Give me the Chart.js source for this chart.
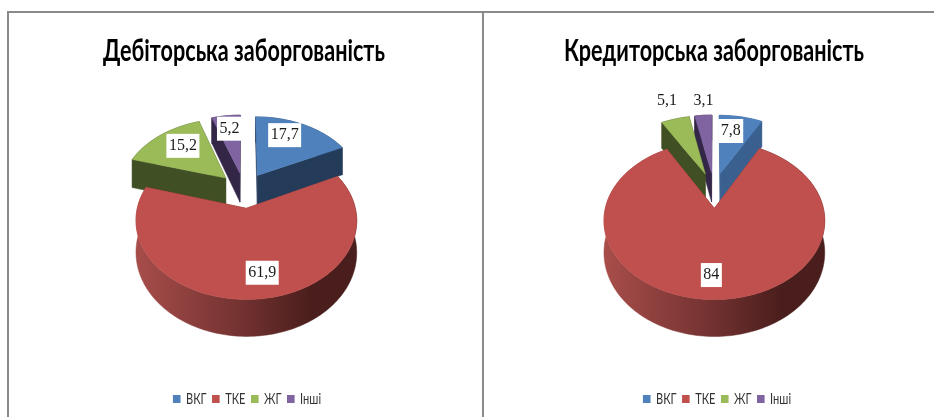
<!DOCTYPE html>
<html>
<head>
<meta charset="utf-8">
<script src="https://cdn.jsdelivr.net/npm/chart.js@4"></script>
<style>
html, body { margin: 0; padding: 0; background: #fff; overflow: hidden; }
#page { position: relative; width: 934px; height: 417px; overflow: hidden; }
.line { position: absolute; background: #8a8a8a; }
.box { position: absolute; top: 13px; height: 404px; }
</style>
</head>
<body>
<div id="page">
  <div class="line" style="left:7px;top:11px;width:927px;height:2px"></div>
  <div class="line" style="left:7px;top:12px;width:2px;height:405px"></div>
  <div class="line" style="left:482px;top:12px;width:2px;height:405px"></div>
  <div class="box" style="left:4px;width:480px"><canvas id="left"></canvas></div>
  <div class="box" style="left:484px;width:450px"><canvas id="right"></canvas></div>
</div>
<script>
const categories = ["ВКГ", "ТКЕ", "ЖГ", "Інші"]
const debtorValues = [17.7, 61.9, 15.2, 5.2]
const creditorValues = [7.8, 84, 5.1, 3.1]
const debtorTitle = "Дебіторська заборгованість"
const creditorTitle = "Кредиторська заборгованість"

const topColors = ["#4F81BD", "#C0504D", "#9BBB59", "#8064A2"]
const wallColors = ["#243B5A", "#6E2E2C", "#404F24", "#332647"]

// the 3d look: tilt + a bit of perspective, the arcs come from chart.js
const TILT = 0.68
const PERSP = 0.15
const DEPTH = 30
const SHIFT_Y = -41
const TITLE_SQUEEZE = 0.72
const LEGEND_SQUEEZE = 0.69
const LEGEND_SHIFT = 3

function project(arc, shiftY, u, v) {
  const s = 1 / (1 - PERSP * v)
  return { x: arc.x + arc.outerRadius * u * s, y: arc.y + shiftY + arc.outerRadius * TILT * v * s, s: s }
}

function down(p) {
  return { x: p.x, y: p.y + DEPTH * p.s }
}

function polygon(ctx, points, fill) {
  ctx.beginPath()
  points.forEach((p, i) => i ? ctx.lineTo(p.x, p.y) : ctx.moveTo(p.x, p.y))
  ctx.closePath()
  ctx.fillStyle = fill
  ctx.fill()
  ctx.strokeStyle = fill
  ctx.lineWidth = 0.5
  ctx.stroke()
}

function slicePoints(arc, shiftY) {
  const mid = (arc.startAngle + arc.endAngle) / 2
  const off = arc.options.offset / arc.outerRadius
  const ox = Math.cos(mid) * off
  const oy = Math.sin(mid) * off
  const steps = Math.max(6, Math.ceil((arc.endAngle - arc.startAngle) * 40))
  const rim = []
  for (let i = 0; i <= steps; i++) {
    const a = arc.startAngle + (arc.endAngle - arc.startAngle) * i / steps
    rim.push(project(arc, shiftY, Math.cos(a) + ox, Math.sin(a) + oy))
  }
  return { apex: project(arc, shiftY, ox, oy), rim: rim }
}

// narrow the text horizontally around the middle of the box
function squeeze(box, k, dx) {
  const draw = box.draw
  box.draw = function (area) {
    const ctx = box.ctx
    const mid = box.chart.chartArea.left + box.chart.chartArea.width / 2
    ctx.save()
    ctx.translate(mid + dx, 0)
    ctx.scale(k, 1)
    ctx.translate(-mid, 0)
    draw.call(box, area)
    ctx.restore()
  }
}

const pie3d = {
  id: "pie3d",
  afterLayout(chart) {
    if (chart.$squeezed) return
    chart.$squeezed = true
    squeeze(chart.titleBlock, TITLE_SQUEEZE, 0)
    squeeze(chart.legend, LEGEND_SQUEEZE, LEGEND_SHIFT)
  },
  beforeDatasetsDraw(chart, args, opts) {
    const ctx = chart.ctx
    const arcs = chart.getDatasetMeta(0).data
    const items = arcs.map((arc, i) => ({ i: i, pts: slicePoints(arc, opts.shiftY) }))
    items.sort((a, b) => a.pts.apex.y - b.pts.apex.y)
    items.forEach(item => {
      const { apex, rim } = item.pts
      const wall = opts.walls[item.i]
      const first = rim[0]
      const last = rim[rim.length - 1]
      polygon(ctx, [apex, first, down(first), down(apex)], wall)
      polygon(ctx, [apex, last, down(last), down(apex)], wall)
      let side = wall
      if (item.i === 1) {
        side = ctx.createLinearGradient(arcs[1].x - 112, 0, arcs[1].x + 112, 0)
        side.addColorStop(0, "#A94E4B")
        side.addColorStop(0.5, "#713130")
        side.addColorStop(0.8, "#4A1E1C")
        side.addColorStop(1, "#4A1E1C")
      }
      polygon(ctx, rim.concat(rim.map(down).reverse()), side)
      polygon(ctx, [apex].concat(rim), topColors[item.i])
    })
    return false
  },
  afterDraw(chart, args, opts) {
    const ctx = chart.ctx
    const values = chart.data.datasets[0].data
    ctx.font = "16px 'Liberation Serif'"
    ctx.textAlign = "center"
    ctx.textBaseline = "middle"
    chart.getDatasetMeta(0).data.forEach((arc, i) => {
      const mid = (arc.startAngle + arc.endAngle) / 2
      const off = arc.options.offset / arc.outerRadius
      const r = off + 0.65
      const p = project(arc, opts.shiftY, Math.cos(mid) * r, Math.sin(mid) * r)
      const x = p.x + opts.nudges[i][0]
      const y = p.y + opts.nudges[i][1]
      const text = String(values[i]).replace(".", ",")
      const w = ctx.measureText(text).width + 5
      ctx.fillStyle = "#fff"
      ctx.fillRect(x - w / 2, y - 12, w, 24)
      ctx.fillStyle = "#1a1a1a"
      ctx.fillText(text, x, y)
    })
  }
}

function makeChart(id, title, values, padLeft, walls, nudges) {
  return new Chart(document.getElementById(id), {
    type: "pie",
    data: {
      labels: categories,
      datasets: [{ data: values, backgroundColor: topColors, borderWidth: 0, offset: 26, radius: 105 }]
    },
    options: {
      animation: false,
      responsive: true,
      maintainAspectRatio: false,
      layout: { padding: { left: padLeft, bottom: 0 } },
      events: [],
      plugins: {
        tooltip: { enabled: false },
        title: {
          display: true,
          text: title,
          color: "#000",
          font: { family: "Lato", size: 30, weight: "bold" },
          padding: { top: 20, bottom: 10 }
        },
        legend: {
          position: "bottom",
          labels: {
            boxWidth: 11,
            boxHeight: 8,
            padding: 8,
            color: "#333",
            font: { family: "Lato", size: 16 }
          }
        },
        pie3d: { walls: walls, nudges: nudges, shiftY: SHIFT_Y }
      }
    },
    plugins: [pie3d]
  })
}

makeChart("left", debtorTitle, debtorValues, 0, wallColors,
  [[-4, -6], [9, 9], [1, -3.5], [-1, -5.5]])
makeChart("right", creditorTitle, creditorValues, 10, ["#3A6090", "#6E2E2C", "#404F24", "#332647"],
  [[-3.5, -4], [-4, 11], [-18, -35.5], [-2.5, -32.5]])
</script>
</body>
</html>
